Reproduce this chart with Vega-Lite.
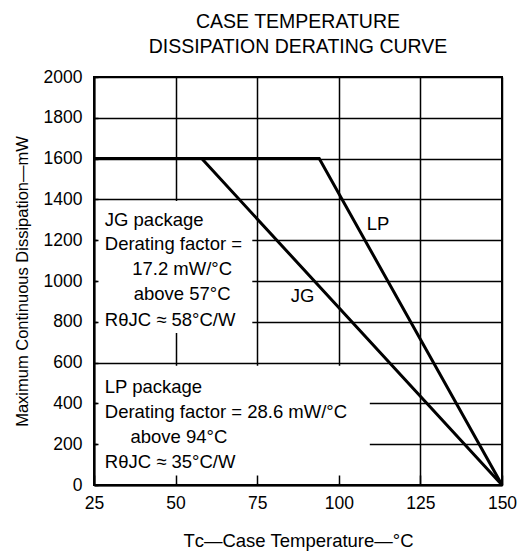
{
  "$schema": "https://vega.github.io/schema/vega-lite/v6.json",
  "width": 408,
  "height": 408,
  "autosize": "none",
  "padding": {"left": 94, "top": 77, "right": 15, "bottom": 67},
  "background": "white",
  "title": {
    "text": ["CASE TEMPERATURE", "DISSIPATION DERATING CURVE"],
    "fontSize": 19.5,
    "font": "Liberation Sans",
    "fontWeight": "normal",
    "lineHeight": 25,
    "offset": 11,
    "anchor": "middle",
    "color": "black"
  },
  "config": {
    "view": {"stroke": "black", "strokeWidth": 2},
    "font": "Liberation Sans",
    "text": {"font": "Liberation Sans", "color": "black"}
  },
  "datasets": {
    "curves": [
      {"series": "JG", "t": 25, "p": 1600},
      {"series": "JG", "t": 58, "p": 1600},
      {"series": "JG", "t": 150, "p": 0},
      {"series": "LP", "t": 25, "p": 1600},
      {"series": "LP", "t": 94, "p": 1600},
      {"series": "LP", "t": 150, "p": 0}
    ],
    "boxes": [
      {"box": "JG", "t": 26, "t2": 73.5, "p": 745, "p2": 1392},
      {"box": "LP", "t": 26, "t2": 109.5, "p": 6, "p2": 585}
    ],
    "notesLeft": [
      {"t": 28.3, "p": 1270, "label": "JG package"},
      {"t": 28.3, "p": 1150, "label": "Derating factor ="},
      {"t": 28.3, "p": 780, "label": "RθJC ≈ 58°C/W"},
      {"t": 28.3, "p": 449, "label": "LP package"},
      {"t": 28.3, "p": 327, "label": "Derating factor = 28.6 mW/°C"},
      {"t": 28.3, "p": 83, "label": "RθJC ≈ 35°C/W"}
    ],
    "notesCenter": [
      {"t": 52, "p": 1030, "label": "17.2 mW/°C"},
      {"t": 52, "p": 907, "label": "above 57°C"},
      {"t": 51, "p": 204, "label": "above 94°C"},
      {"t": 112, "p": 1250, "label": "LP"},
      {"t": 88.9, "p": 898, "label": "JG"}
    ]
  },
  "resolve": {"axis": {"x": "independent", "y": "independent"}},
  "layer": [
    {
      "encoding": {
        "x": {
          "field": "t",
          "type": "quantitative",
          "scale": {"domain": [25, 150], "nice": false, "zero": false},
          "axis": {
            "orient": "bottom",
            "title": null,
            "values": [25, 50, 75, 100, 125, 150],
            "grid": true,
            "gridColor": "black",
            "gridWidth": 1.5,
            "gridOpacity": 1,
            "ticks": false,
            "labels": false,
            "domain": false,
            "zindex": 0
          }
        },
        "y": {
          "field": "p",
          "type": "quantitative",
          "scale": {"domain": [0, 2000], "nice": false, "zero": false},
          "axis": {
            "orient": "left",
            "title": null,
            "values": [0, 200, 400, 600, 800, 1000, 1200, 1400, 1600, 1800, 2000],
            "grid": true,
            "gridColor": "black",
            "gridWidth": 1.5,
            "gridOpacity": 1,
            "ticks": false,
            "labels": false,
            "domain": false,
            "zindex": 0
          }
        }
      },
      "layer": [
        {
          "data": {"name": "boxes"},
          "mark": {"type": "rect", "fill": "white", "stroke": null},
          "encoding": {
            "x2": {"field": "t2"},
            "y2": {"field": "p2"}
          }
        },
        {
          "data": {"name": "curves"},
          "mark": {"type": "line", "color": "black", "strokeWidth": 3},
          "encoding": {
            "detail": {"field": "series"}
          }
        }
      ]
    },
    {
      "encoding": {
        "x": {
          "field": "t",
          "type": "quantitative",
          "scale": {"domain": [25, 150], "nice": false, "zero": false},
          "axis": {
            "orient": "bottom",
            "title": "Tᴄ—Case Temperature—°C",
            "values": [25, 50, 75, 100, 125, 150],
            "grid": false,
            "tickColor": "black",
            "tickWidth": 1.5,
            "tickSize": -10,
            "labelPadding": 19,
            "labelFlush": false,
            "labelFontSize": 17.5,
            "labelColor": "black",
            "labelFont": "Liberation Sans",
            "domainColor": "black",
            "domainWidth": 2,
            "titleFontSize": 18.5,
            "titleFont": "Liberation Sans",
            "titleFontWeight": "normal",
            "titleColor": "black",
            "titlePadding": 20,
            "zindex": 1
          }
        },
        "y": {
          "field": "p",
          "type": "quantitative",
          "scale": {"domain": [0, 2000], "nice": false, "zero": false},
          "axis": {
            "orient": "left",
            "title": "Maximum Continuous Dissipation—mW",
            "values": [0, 200, 400, 600, 800, 1000, 1200, 1400, 1600, 1800, 2000],
            "format": "d",
            "grid": false,
            "tickColor": "black",
            "tickWidth": 1.5,
            "tickSize": -4,
            "labelPadding": 16,
            "labelFlush": false,
            "labelFontSize": 17.5,
            "labelColor": "black",
            "labelFont": "Liberation Sans",
            "domainColor": "black",
            "domainWidth": 2,
            "titleFontSize": 16.5,
            "titleFont": "Liberation Sans",
            "titleFontWeight": "normal",
            "titleColor": "black",
            "titlePadding": 13,
            "zindex": 1
          }
        }
      },
      "layer": [
        {
          "data": {"name": "notesLeft"},
          "mark": {"type": "text", "align": "left", "baseline": "alphabetic", "fontSize": 18.5, "color": "black"},
          "encoding": {"text": {"field": "label"}}
        },
        {
          "data": {"name": "notesCenter"},
          "mark": {"type": "text", "align": "center", "baseline": "alphabetic", "fontSize": 18.5, "color": "black"},
          "encoding": {"text": {"field": "label"}}
        }
      ]
    }
  ]
}
